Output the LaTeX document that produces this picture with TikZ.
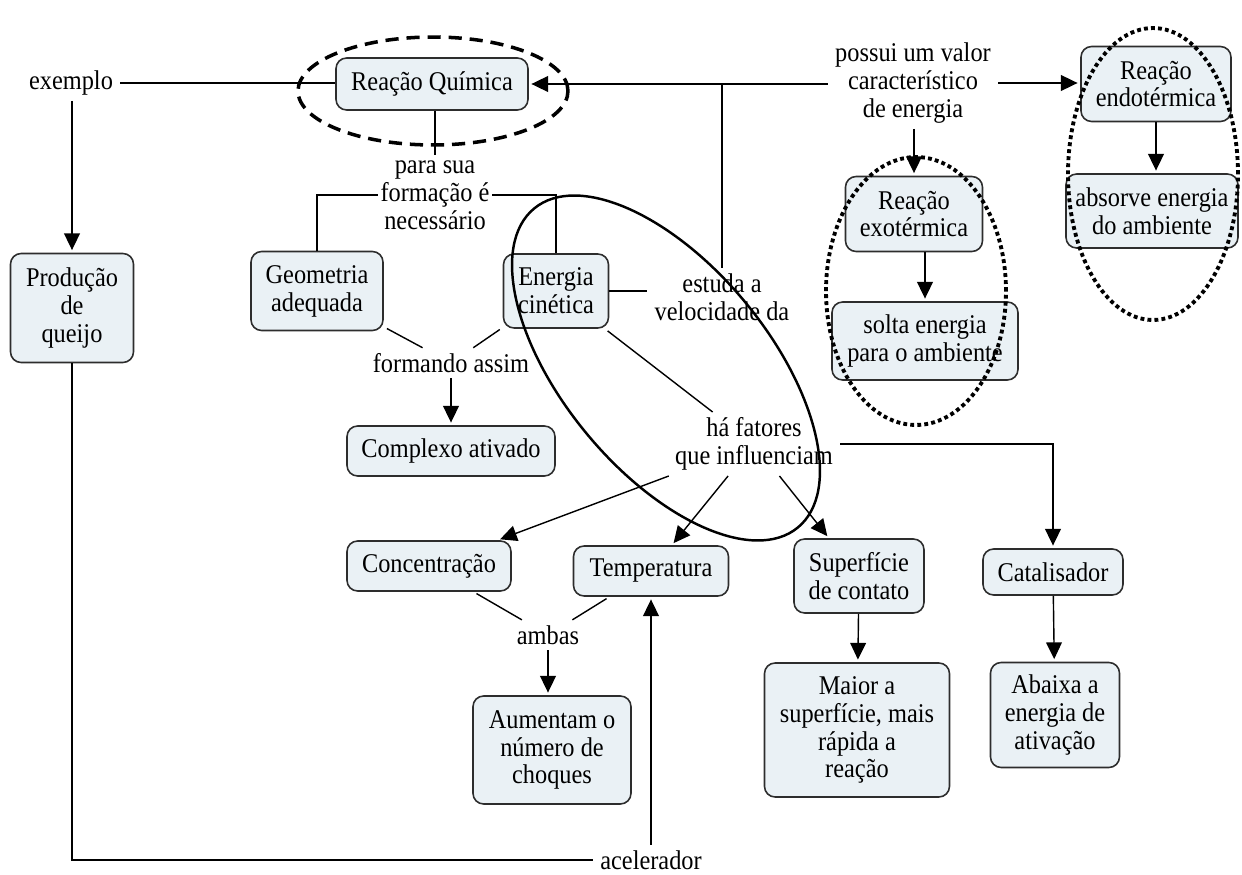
\documentclass[tikz,border=0pt]{standalone}
\usepackage{fontspec}
\setmainfont{Liberation Serif}[FakeStretch=0.9]
\usetikzlibrary{arrows.meta}
\definecolor{boxfill}{RGB}{234,241,245}
\definecolor{boxline}{RGB}{45,45,45}
\begin{document}
\begin{tikzpicture}[x=0.02cm,y=-0.02cm,
  font=\fontsize{15.4}{15.9}\selectfont,
  concept/.style={draw=boxline,line width=0.9pt,fill=boxfill,rounded corners=6pt,
                  align=center,inner sep=0pt},
  phrase/.style={align=center,inner xsep=4pt,inner ysep=3pt},
  link/.style={line width=0.8pt},
  arr/.style={link,-{Triangle[length=9.5pt,width=9pt]},shorten >=1.5pt},
  hoop/.style={line width=1.4pt},
  dashhoop/.style={line width=2pt,dash pattern=on 7.5pt off 4.5pt},
  dothoop/.style={line width=2.2pt,dash pattern=on 2.2pt off 1.8pt},
]
\path[use as bounding box] (0,0) rectangle (1242,875);

% concepts
\node[concept,minimum width=3.84cm,minimum height=1.04cm] (rq)   at (432,84)   {Reação Química};
\node[concept,minimum width=2.46cm,minimum height=2.18cm] (prod) at (72,308)   {Produção\\de\\queijo};
\node[concept,minimum width=2.64cm,minimum height=1.58cm] (geo)  at (317,291)  {Geometria\\adequada};
\node[concept,minimum width=2.10cm,minimum height=1.48cm] (ec)   at (556,291)  {Energia\\cinética};
\node[concept,minimum width=4.16cm,minimum height=1.00cm] (cx)   at (451,451)  {Complexo ativado};
\node[concept,minimum width=2.74cm,minimum height=1.50cm] (exo)  at (914,214)  {Reação\\exotérmica};
\node[concept,minimum width=3.72cm,minimum height=1.56cm] (sol)  at (925,341)  {solta energia\\para o ambiente};
\node[concept,minimum width=3.00cm,minimum height=1.50cm] (endo) at (1156,84)  {Reação\\endotérmica};
\node[concept,minimum width=3.44cm,minimum height=1.48cm] (abs)  at (1152,211) {absorve energia\\do ambiente};
\node[concept,minimum width=3.28cm,minimum height=1.00cm] (conc) at (429,566)  {Concentração};
\node[concept,minimum width=3.10cm,minimum height=1.00cm] (temp) at (651,571)  {Temperatura};
\node[concept,minimum width=2.60cm,minimum height=1.48cm] (sup)  at (859,576)  {Superfície\\de contato};
\node[concept,minimum width=2.80cm,minimum height=0.92cm] (cat)  at (1053,572) {Catalisador};
\node[concept,minimum width=3.70cm,minimum height=2.68cm] (maior) at (857,730) {Maior a\\superfície, mais\\rápida a\\reação};
\node[concept,minimum width=2.58cm,minimum height=2.10cm] (abx)  at (1055,715) {Abaixa a\\energia de\\ativação};
\node[concept,minimum width=3.16cm,minimum height=2.16cm] (aum)  at (552,750)  {Aumentam o\\número de\\choques};

% linking phrases
\node[phrase] (ex)   at (71,83)   {exemplo};
\node[phrase,inner xsep=1.5pt] (para) at (435,195) {para sua\\formação é\\necessário};
\node[phrase] (form) at (451,363) {formando assim};
\node[phrase] (est)  at (722,297) {estuda a\\velocidade da};
\node[phrase] (poss) at (913,83)  {possui um valor\\característico\\de energia};
\node[phrase] (hf)   at (754,444) {há fatores\\que influenciam};
\node[phrase] (amb)  at (548,635) {ambas};
\node[phrase] (acel) at (651,860) {acelerador};

% connectors
\draw[link] (ex.east) -- (ex.east -| rq.west);
\draw[arr] (prod |- ex.south) -- (prod.north);
\draw[link] (para.north |- rq.south) -- (para.north);
\draw[link] (para.west) -| (geo.north);
\draw[link] (para.east) -| (ec.north);
\draw[link] (ec.east) -- (ec.east -| est.west);
\draw[arr] (est.north) |- (rq.east);
\draw[link] (poss.west |- rq.east) -- (est.north |- rq.east);
\draw[arr] (poss.east) -- (poss.east -| endo.west);
\draw[arr] (poss.south -| exo) -- (exo.north);
\draw[arr] (sol |- exo.south) -- (sol.north);
\draw[arr] (endo.south) -- (endo.south |- abs.north);
\draw[link,shorten <=2pt] (geo) -- (form);
\draw[link,shorten <=2pt] (ec) -- (form);
\draw[arr] (form) -- (cx);
\draw[link,shorten <=2pt] (ec) -- (hf);
\draw[arr] (hf) -- (conc);
\draw[arr] (hf) -- (temp);
\draw[arr] (hf) -- (sup);
\draw[arr] (hf.east) -| (cat.north);
\draw[arr] (cat) -- (abx);
\draw[arr] (sup) -- (maior);
\draw[link,shorten <=2pt] (conc) -- (amb);
\draw[link,shorten <=2pt] (temp) -- (amb);
\draw[arr] (amb.south) -- (amb.south |- aum.north);
\draw[link] (prod.south) |- (acel.west);
\draw[arr] (acel.north) -- (temp.south);

% highlight rings
\draw[dashhoop] (433,91) ellipse [x radius=2.70cm, y radius=1.08cm];
\draw[dothoop] (916,291) ellipse [x radius=1.80cm, y radius=2.68cm];
\draw[dothoop] (1153,174) ellipse [x radius=1.70cm, y radius=2.92cm];
\draw[hoop, rotate around={-50.4:(666,368)}] (666,368) ellipse [x radius=4.14cm, y radius=2.06cm];
\end{tikzpicture}
\end{document}
